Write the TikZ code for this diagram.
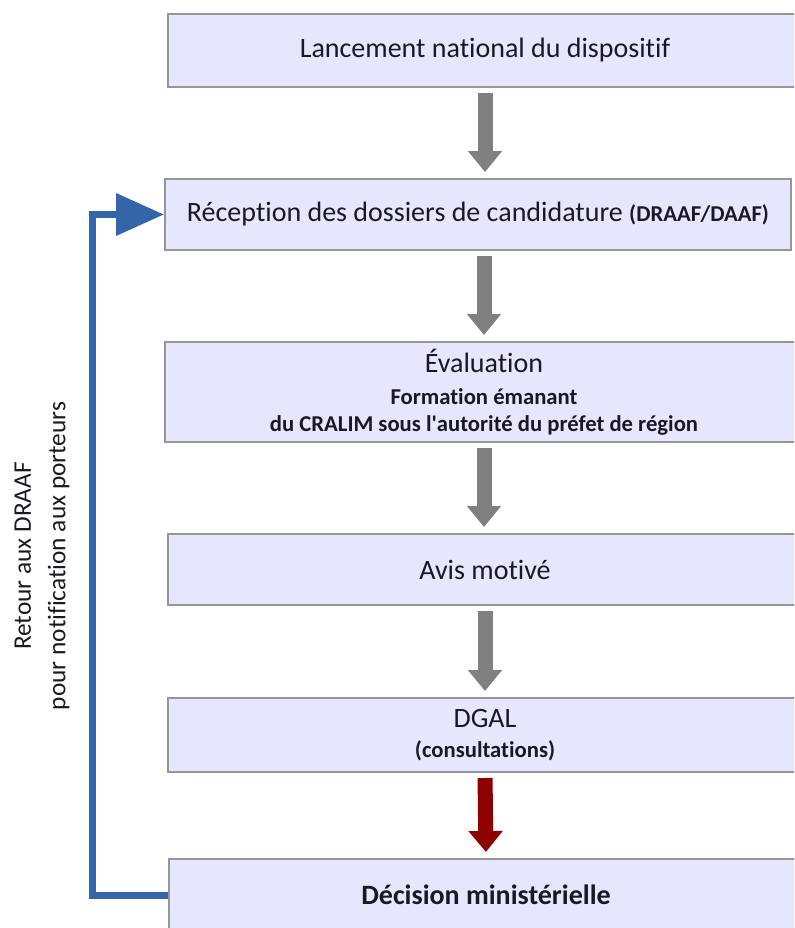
\documentclass[tikz,border=0pt]{standalone}
\usepackage{fontspec}
\setmainfont{Carlito}[Ligatures={NoCommon}]
\usetikzlibrary{arrows.meta,positioning}
\definecolor{boxfill}{RGB}{230,230,255}
\definecolor{boxline}{RGB}{150,150,150}
\definecolor{arrgray}{RGB}{128,128,128}
\definecolor{arrred}{RGB}{140,0,0}
\definecolor{retblue}{RGB}{52,101,168}
\definecolor{txt}{RGB}{25,25,35}
\newcommand{\smallbf}[1]{{\fontsize{17}{19}\selectfont\bfseries #1}}

\begin{document}
\begin{tikzpicture}[x=0.75pt,y=-0.75pt,
	bstyle/.style={draw=boxline, fill=boxfill, line width=1.5pt,
	minimum width=634*0.75pt, minimum height=73*0.75pt, inner sep=0pt,
	align=center, text=txt, font=\fontsize{21}{24}\selectfont},
	garrow/.style={draw=arrgray, line width=15*0.75pt,
	-{Triangle[width=33*0.75pt,length=21*0.75pt]},
	shorten <=5*0.75pt, shorten >=6*0.75pt},
	barrow/.style={draw=retblue, line width=7*0.75pt, line join=miter,
	-{Triangle[width=41*0.75pt,length=48*0.75pt]}}
	]
	\useasboundingbox (0,0) rectangle (794,928);
	\clip (0,0) rectangle (794,928);
	% boxes
	\node[bstyle] (b1) at (485,50.5) {Lancement national du dispositif};
	\node[bstyle, minimum width=626*0.75pt, minimum height=71*0.75pt] (b2) at (478,214.5)
	{R\'eception des dossiers de candidature \smallbf{(DRAAF/DAAF)}};
	\node[bstyle, minimum width=638*0.75pt, minimum height=100*0.75pt] (b3) at (484,392)
	{\'Evaluation\\[0pt] \smallbf{Formation \'emanant}\\[-4pt]
	\smallbf{du CRALIM sous l\textquotesingle autorit\'e du pr\'efet de r\'egion}};
	\node[bstyle, minimum height=71*0.75pt] (b4) at (485,569.5) {Avis motiv\'e};
	\node[bstyle, minimum height=74*0.75pt] (b5) at (485,735)
	{DGAL\\[-2pt] \smallbf{(consultations)}};
	\node[bstyle, minimum height=72*0.75pt, font=\fontsize{21}{24}\selectfont\bfseries] (b6) at (486,895)
	{D\'ecision minist\'erielle};
	% flow
	\draw[garrow] (b1.south) -- (b1.south |- b2.north);
	\draw[garrow] (b3.north |- b2.south) -- (b3.north);
	\draw[garrow] (b3.south) -- (b3.south |- b4.north);
	\draw[garrow] (b4.south) -- (b5.north);
	\draw[garrow, draw=arrred] (b5.south) -- (b6.north);
	% return loop
	\coordinate (ret) at (92,556);
	\draw[barrow] (b6.west) -| (ret) |- (b2.west);
	\node[rotate=90, align=center, text=txt, font=\fontsize{19}{26}\selectfont] (retlbl) at (42,556)
	{Retour aux DRAAF\\pour notification aux porteurs};
\end{tikzpicture}
\end{document}
